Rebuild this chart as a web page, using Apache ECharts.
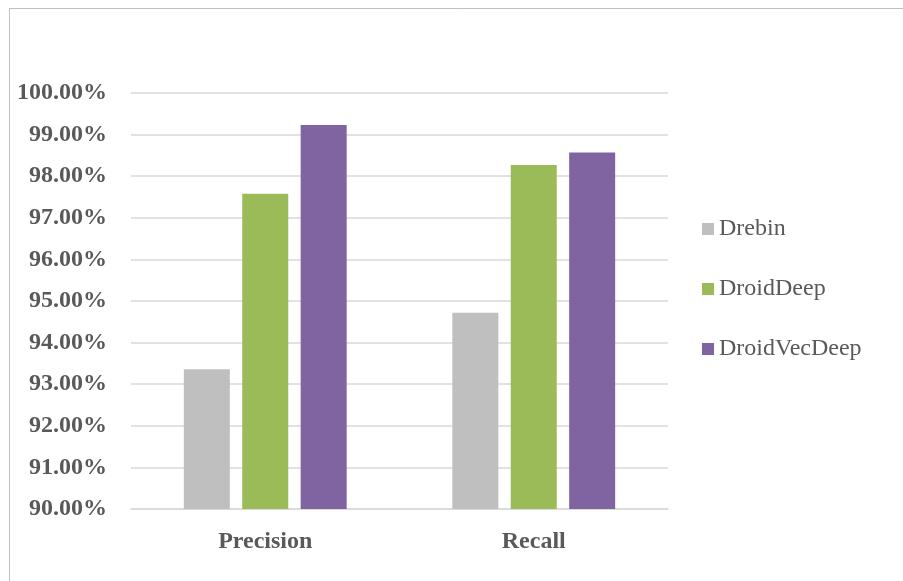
<!DOCTYPE html>
<html>
<head>
<meta charset="utf-8">
<script src="https://cdn.jsdelivr.net/npm/echarts@6/dist/echarts.min.js"></script>
<style>
  html, body { margin: 0; padding: 0; background: #fff; }
  #chart { width: 903px; height: 581px; }
</style>
</head>
<body>
<div id="chart"></div>
<script>
// Metrics on the x axis and the three detectors compared on each
const categories = ['Precision', 'Recall'];
const drebin = [93.36, 94.72];
const droidDeep = [97.58, 98.27];
const droidVecDeep = [99.23, 98.57];
const seriesNames = ['Drebin', 'DroidDeep', 'DroidVecDeep'];
const seriesColors = ['#bfbfbf', '#9bbb59', '#8064a2'];

const serif = '"Liberation Serif", "Times New Roman", serif';
const textGray = '#595959';

const chart = echarts.init(document.getElementById('chart'), null, { renderer: 'canvas' });

const values = [drebin, droidDeep, droidVecDeep];

chart.setOption({
  backgroundColor: '#ffffff',
  animation: false,
  graphic: [{
    type: 'rect',
    shape: { x: 9.5, y: 8.5, width: 1200, height: 1200 },
    style: { fill: 'none', stroke: '#bfbfbf', lineWidth: 1 },
    silent: true
  }],
  grid: { left: 131, right: 235, top: 93, bottom: 72, containLabel: false },
  legend: {
    orient: 'vertical',
    left: 697,
    top: 212,
    itemWidth: 12,
    itemHeight: 12,
    itemGap: 36,
    icon: 'rect',
    data: seriesNames,
    textStyle: { fontFamily: serif, fontSize: 24, color: textGray, lineHeight: 24, padding: [0, 0, 0, 0] }
  },
  xAxis: {
    type: 'category',
    data: categories,
    axisLine: { show: true, lineStyle: { color: '#d9d9d9', width: 1.5 } },
    axisTick: { show: false },
    axisLabel: { fontFamily: serif, fontSize: 24, fontWeight: 'bold', color: textGray, margin: 21 }
  },
  yAxis: {
    type: 'value',
    min: 90,
    max: 100,
    interval: 1,
    axisLine: { show: false },
    axisTick: { show: false },
    splitLine: { lineStyle: { color: '#d9d9d9', width: 1.5 } },
    axisLabel: {
      fontFamily: serif, fontSize: 24, fontWeight: 'bold', color: textGray, margin: 24,
      formatter: v => v.toFixed(2) + '%'
    }
  },
  series: seriesNames.map((name, i) => ({
    name: name,
    type: 'bar',
    data: values[i],
    barWidth: 46,
    barGap: '27%',
    itemStyle: { color: seriesColors[i] }
  }))
});
</script>
</body>
</html>
